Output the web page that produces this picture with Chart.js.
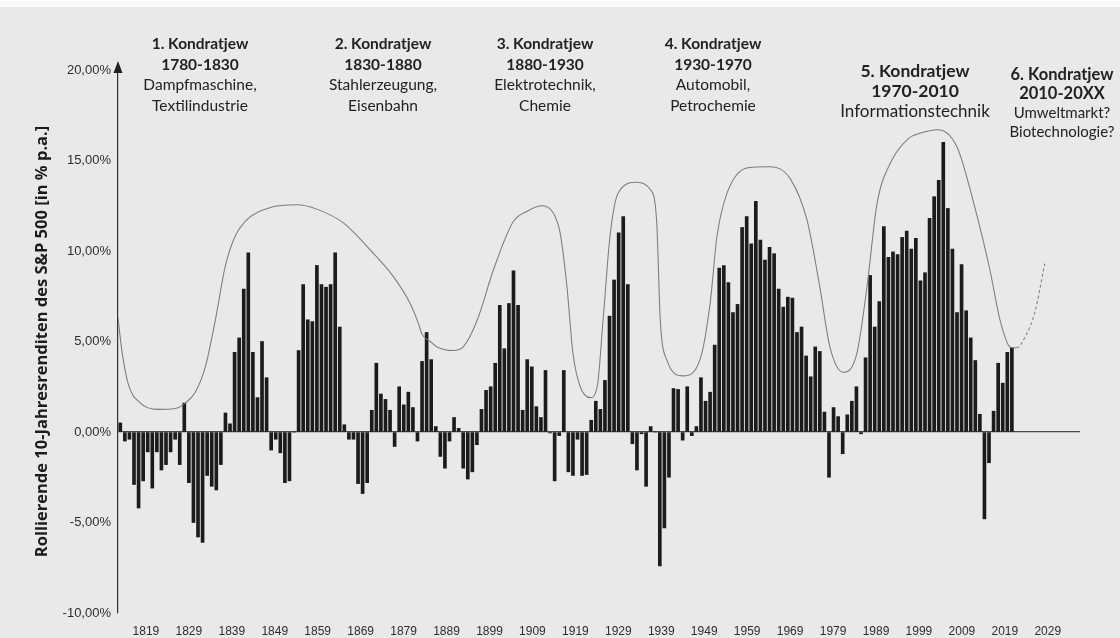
<!DOCTYPE html>
<html lang="de">
<head>
<meta charset="utf-8">
<title>Kondratjew-Zyklen und rollierende 10-Jahresrenditen des S&amp;P 500</title>
<script src="https://cdn.jsdelivr.net/npm/chart.js@4.4.1/dist/chart.umd.min.js"></script>
<style>
  html, body { margin: 0; padding: 0; }
  body { width: 1120px; height: 638px; overflow: hidden; background: #e9e9e9; }
  #wrap { position: relative; width: 1120px; height: 638px;
          background: linear-gradient(#fafafa 0 7px, #e9e9e9 7px); }
  canvas { display: block; }
</style>
</head>
<body>
<div id="wrap"><canvas id="chart" width="1120" height="638"></canvas></div>
<script>
// Rolling 10-year returns of the S&P 500 in % p.a., one value per year from firstYear on
const firstYear = 1819;
const rollingReturns = [
  // 1819-1851
  0.5, -0.5, -0.4, -2.9, -4.2, -2.7, -1.1, -3.1, -1.1, -2.1, -1.8, -1.1, -0.4, -1.8, 1.6, -2.8,
  -5.0, -5.8, -6.1, -2.4, -3.0, -3.2, -1.8, 1.05, 0.45, 4.4, 5.2, 7.9, 9.9, 4.4, 1.9, 5.0, 3.0,
  // 1852-1884
  -1.0, -0.4, -1.15, -2.8, -2.7, 0, 4.5, 8.15, 6.2, 6.1, 9.2, 8.15, 8.0, 8.15, 9.9, 5.8, 0.4,
  -0.4, -0.4, -2.85, -3.4, -2.8, 1.2, 3.8, 2.1, 1.8, 1.2, -0.8, 2.5, 1.5, 2.2, 1.35, -0.5,
  // 1885-1921
  3.9, 5.5, 4.0, 0.3, -1.35, -2.0, -0.5, 0.8, 0.2, -2.0, -2.6, -2.2, -0.7, 1.25, 2.3, 2.5, 3.8,
  7.0, 4.6, 7.1, 8.9, 7.0, 1.2, 4.0, 3.6, 1.4, 0.8, 3.4, -0.05, -2.7, -0.2, 3.4, -2.2, -2.4,
  -0.4, -2.4, -2.35,
  // 1922-1956
  0.65, 1.7, 1.25, 2.85, 6.4, 8.4, 11.0, 11.9, 8.15, -0.65, -2.1, -0.1, -3.0, 0.3, 0, -7.4,
  -5.3, -2.5, 2.4, 2.35, -0.45, 2.5, -0.2, 0.3, 3.0, 1.7, 2.2, 4.8, 9.05, 9.2, 8.25, 6.6, 7.05,
  11.3, 11.9,
  // 1957-1991
  10.4, 12.75, 10.6, 9.5, 10.2, 9.85, 7.9, 6.9, 7.45, 7.4, 5.5, 5.8, 4.2, 3.05, 4.7, 4.45, 1.1,
  -2.5, 1.35, 0.85, -1.2, 0.95, 1.7, 2.5, -0.1, 4.1, 8.65, 5.8, 7.2, 11.35, 9.65, 9.95, 9.8,
  10.75, 11.1,
  // 1992-2014
  10.1, 10.7, 8.35, 8.8, 11.8, 13.0, 13.9, 16.0, 12.35, 10.1, 6.6, 9.25, 6.7, 5.2, 3.95, 0.98,
  -4.8, -1.7, 1.15, 3.8, 2.7, 4.4, 4.65
];

// Year labels printed under the time axis
const decadeTicks = [1819, 1829, 1839, 1849, 1859, 1869, 1879, 1889, 1899, 1909, 1919,
                     1929, 1939, 1949, 1959, 1969, 1979, 1989, 1999, 2009, 2019, 2029];

// Envelope of the long waves (Kondratjew cycles), sketched over the bars
const waveYears = [
  1818.5, 1819.4, 1820.8, 1823.4, 1827.1, 1831.0, 1833.2, 1835.4, 1837.6, 1839.8, 1842.0,
  1844.1, 1847.0, 1851.8, 1857.7, 1862.1, 1867.8, 1873.7, 1878.7, 1882.4, 1884.2, 1885.0,
  1886.8, 1888.3, 1891.8, 1894.0, 1897.1, 1900.6, 1904.9, 1908.0, 1911.3, 1913.7, 1915.2,
  1916.7, 1918.0, 1919.6, 1921.8, 1923.3, 1924.6, 1926.1, 1927.9, 1932.0, 1934.9, 1936.3,
  1937.1, 1938.5, 1942.1, 1945.8, 1948.0, 1949.5, 1951.7, 1956.3, 1961.1, 1965.5, 1969.2,
  1972.0, 1974.2, 1977.1, 1980.1, 1982.3, 1984.5, 1987.4, 1991.3, 1993.9, 1997.8, 2002.0,
  2005.5, 2009.2, 2011.4, 2013.6, 2015.0, 2017.0, 2019.0, 2021.2
];
const waveValues = [
  6.3, 4.4, 2.6, 1.6, 1.25, 1.3, 1.6, 2.2, 3.6, 6.2, 9.2,
  10.8, 11.8, 12.4, 12.55, 12.3, 11.55, 10.05, 8.6, 7.1, 6.0, 5.4,
  5.0, 4.7, 4.5, 4.7, 6.2, 8.95, 11.6, 12.2, 12.5, 12.1, 11.0,
  8.0, 4.35, 2.5, 1.9, 2.5, 6.2, 10.8, 13.2, 13.8, 13.4, 11.7,
  6.2, 4.0, 3.1, 4.0, 7.1, 10.8, 13.2, 14.6, 14.65, 14.0, 11.7,
  8.0, 4.7, 3.3, 4.35, 8.0, 12.6, 14.85, 16.2, 16.5, 16.7, 15.75,
  12.8, 8.95, 6.2, 4.7, 4.65, 5.3, 6.6, 9.3
];
// From here on the wave is a projection and is drawn dashed
const projectionFrom = 2015;

// Captions of the six cycles
const cycleTitles = ['1. Kondratjew', '2. Kondratjew', '3. Kondratjew',
                     '4. Kondratjew', '5. Kondratjew', '6. Kondratjew'];
const cyclePeriods = ['1780-1830', '1830-1880', '1880-1930', '1930-1970', '1970-2010', '2010-20XX'];
const cycleTopics = [
  ['Dampfmaschine,', 'Textilindustrie'],
  ['Stahlerzeugung,', 'Eisenbahn'],
  ['Elektrotechnik,', 'Chemie'],
  ['Automobil,', 'Petrochemie'],
  ['Informationstechnik'],
  ['Umweltmarkt?', 'Biotechnologie?']
];

const yAxisTitle = 'Rollierende 10-Jahresrenditen des S&P 500 [in % p.a.]';

// ---- drawing ----
const inkColor = '#222';
const captionFont = 'Lato, "Open Sans", sans-serif';
const titleFont = '"Open Sans", "Noto Sans", sans-serif';
const tickFont = '"Liberation Sans", Arial, sans-serif';

// caption block layout: centre x, first line y, line step, font sizes (bold lines, plain lines)
const captionLayout = [
  { x: 200, y: 44, step: 20.5, bold: 15.5, plain: 15.5 },
  { x: 383, y: 44, step: 20.5, bold: 15.5, plain: 15.5 },
  { x: 545, y: 44, step: 20.5, bold: 15.5, plain: 15.5 },
  { x: 713, y: 44, step: 20.5, bold: 15.5, plain: 15.5 },
  { x: 915, y: 71, step: 20.5, bold: 17.5, plain: 17 },
  { x: 1062, y: 75, step: 19, bold: 16.5, plain: 15 }
];

const captionPlugin = {
  id: 'cycleCaptions',
  afterDraw(chart) {
    const c = chart.ctx;
    c.save();
    c.fillStyle = inkColor;
    c.textAlign = 'center';
    c.textBaseline = 'middle';
    cycleTitles.forEach((title, i) => {
      const L = captionLayout[i];
      c.font = `bold ${L.bold}px ${captionFont}`;
      c.fillText(title, L.x, L.y);
      c.fillText(cyclePeriods[i], L.x, L.y + L.step);
      c.font = `${L.plain}px ${captionFont}`;
      cycleTopics[i].forEach((t, k) => c.fillText(t, L.x, L.y + L.step * (2 + k)));
    });
    c.restore();
  }
};

// vertical axis drawn as an arrow that reaches above the plot
const axisArrowPlugin = {
  id: 'axisArrow',
  afterDraw(chart) {
    const c = chart.ctx;
    const x = chart.chartArea.left;
    const top = chart.chartArea.top;
    c.save();
    c.strokeStyle = '#333';
    c.lineWidth = 1.2;
    c.beginPath();
    c.moveTo(x, top + 1);
    c.lineTo(x, 70);
    c.stroke();
    c.fillStyle = '#222';
    c.beginPath();
    c.moveTo(x, 61);
    c.lineTo(x - 4.5, 73);
    c.lineTo(x + 4.5, 73);
    c.closePath();
    c.fill();
    c.restore();
  }
};

const barPoints = rollingReturns.map((v, i) => ({ x: firstYear + i, y: v }));
const wavePoints = waveYears.map((yr, i) => ({ x: yr, y: waveValues[i] }));

new Chart(document.getElementById('chart'), {
  data: {
    datasets: [
      {
        type: 'line',
        data: wavePoints,
        borderColor: '#7c7c7c',
        borderWidth: 1.05,
        pointRadius: 0,
        cubicInterpolationMode: 'monotone',
        order: 0,
        segment: {
          borderDash: ctx => waveYears[ctx.p0DataIndex] >= projectionFrom ? [3, 2.5] : undefined
        }
      },
      {
        type: 'bar',
        data: barPoints,
        backgroundColor: '#1b1b1b',
        barThickness: 3,
        order: 1
      }
    ]
  },
  options: {
    responsive: false,
    animation: false,
    layout: { padding: { top: 70, right: 40, left: 0, bottom: 0 } },
    plugins: { legend: { display: false }, tooltip: { enabled: false } },
    scales: {
      // time scale carrying the bars and the wave
      x: {
        type: 'linear',
        offset: false,
        min: firstYear - 0.5,
        max: 2028.9,
        display: false
      },
      // printed calendar axis under the plot
      years: {
        type: 'linear',
        axis: 'x',
        position: 'bottom',
        offset: false,
        min: 1812.5,
        max: 2036.5,
        grid: { display: false },
        border: { display: false },
        afterBuildTicks: s => { s.ticks = decadeTicks.map(v => ({ value: v })); },
        afterFit: s => { s.height = 25; },
        ticks: {
          autoSkip: false,
          maxRotation: 0,
          padding: 3,
          color: '#2e2e2e',
          font: { family: tickFont, size: 12 },
          callback: v => String(v)
        }
      },
      y: {
        min: -10,
        max: 20,
        afterFit: s => { s.width = 118; },
        ticks: {
          stepSize: 5,
          padding: 7,
          color: '#2e2e2e',
          font: { family: tickFont, size: 13 },
          callback: v => v.toFixed(2).replace('.', ',') + '%'
        },
        grid: {
          drawTicks: false,
          color: ctx => (ctx.tick && ctx.tick.value === 0) ? '#4a4a4a' : 'rgba(0,0,0,0)',
          lineWidth: 1.2
        },
        border: { display: true, color: '#333', width: 1.2 },
        title: {
          display: true,
          text: yAxisTitle,
          color: '#1c1c1c',
          font: { family: titleFont, weight: 'bold', size: 16.5 },
          padding: { top: 32, bottom: 0 }
        }
      }
    }
  },
  plugins: [axisArrowPlugin, captionPlugin]
});
</script>
</body>
</html>
